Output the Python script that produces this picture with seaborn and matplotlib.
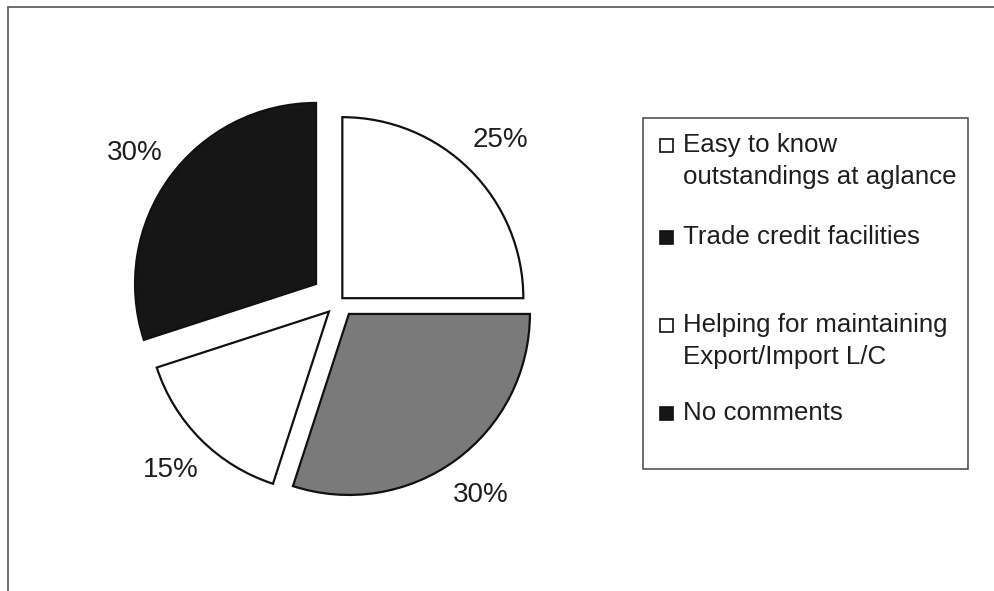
import matplotlib
matplotlib.use("Agg")
import matplotlib.pyplot as plt
from matplotlib.patches import Rectangle
import seaborn as sns

# Survey responses: share of respondents per benefit
categories = [
    "Easy to know\noutstandings at aglance",
    "Trade credit facilities",
    "Helping for maintaining\nExport/Import L/C",
    "No comments",
]
shares = [25, 30, 15, 30]
pct_labels = [f"{v}%" for v in shares]

sns.set_theme(style="white")
plt.rcParams["font.family"] = ["Liberation Sans", "DejaVu Sans"]

W, H = 994, 591
fig = plt.figure(figsize=(W / 100, H / 100), dpi=100)
ax = fig.add_axes([0, 0, 1, 1])

slice_colors = ["white", "#7a7a7a", "white", "#161616"]
legend_colors = ["white", "#161616", "white", "#161616"]
text_color = "#1e1e1e"

# explode offsets are in the same units as the radius
wedges, texts = ax.pie(
    shares,
    labels=pct_labels,
    colors=slice_colors,
    startangle=90,
    counterclock=False,
    explode=[4, 16, 15, 29],
    center=(339.5, 290),
    radius=181,
    labeldistance=1.235,
    wedgeprops=dict(edgecolor="#111111", linewidth=1.6),
    textprops=dict(fontsize=20, color=text_color),
    frame=True,
)
for t in texts:
    t.set_ha("center")
    t.set_va("center")
ax.set_xlim(0, W)
ax.set_ylim(0, H)
ax.set_aspect("equal")
ax.axis("off")

# chart area border (top and left edges visible)
fig.add_artist(Rectangle((8 / W, -0.1), 1.2, (H - 7) / H + 0.1,
                         transform=fig.transFigure, fill=False,
                         edgecolor="#555555", linewidth=1.2))

# legend box
box_left, box_top, box_right, box_bottom = 643, 118, 968, 469
ax.add_patch(Rectangle((box_left, H - box_bottom), box_right - box_left,
                       box_bottom - box_top, fill=False,
                       edgecolor="#444444", linewidth=1.1))
entry_y = [145, 237, 325, 413]
line_gap = 32
for label, col, y in zip(categories, legend_colors, entry_y):
    ax.add_patch(Rectangle((660, H - y - 6.5), 13, 13, facecolor=col,
                           edgecolor="#111111", linewidth=1.2))
    for i, line in enumerate(label.split("\n")):
        ax.text(683, H - y - i * line_gap, line, fontsize=18.6,
                color=text_color, ha="left", va="center")

fig.savefig("out.png", dpi=100, facecolor="white")
